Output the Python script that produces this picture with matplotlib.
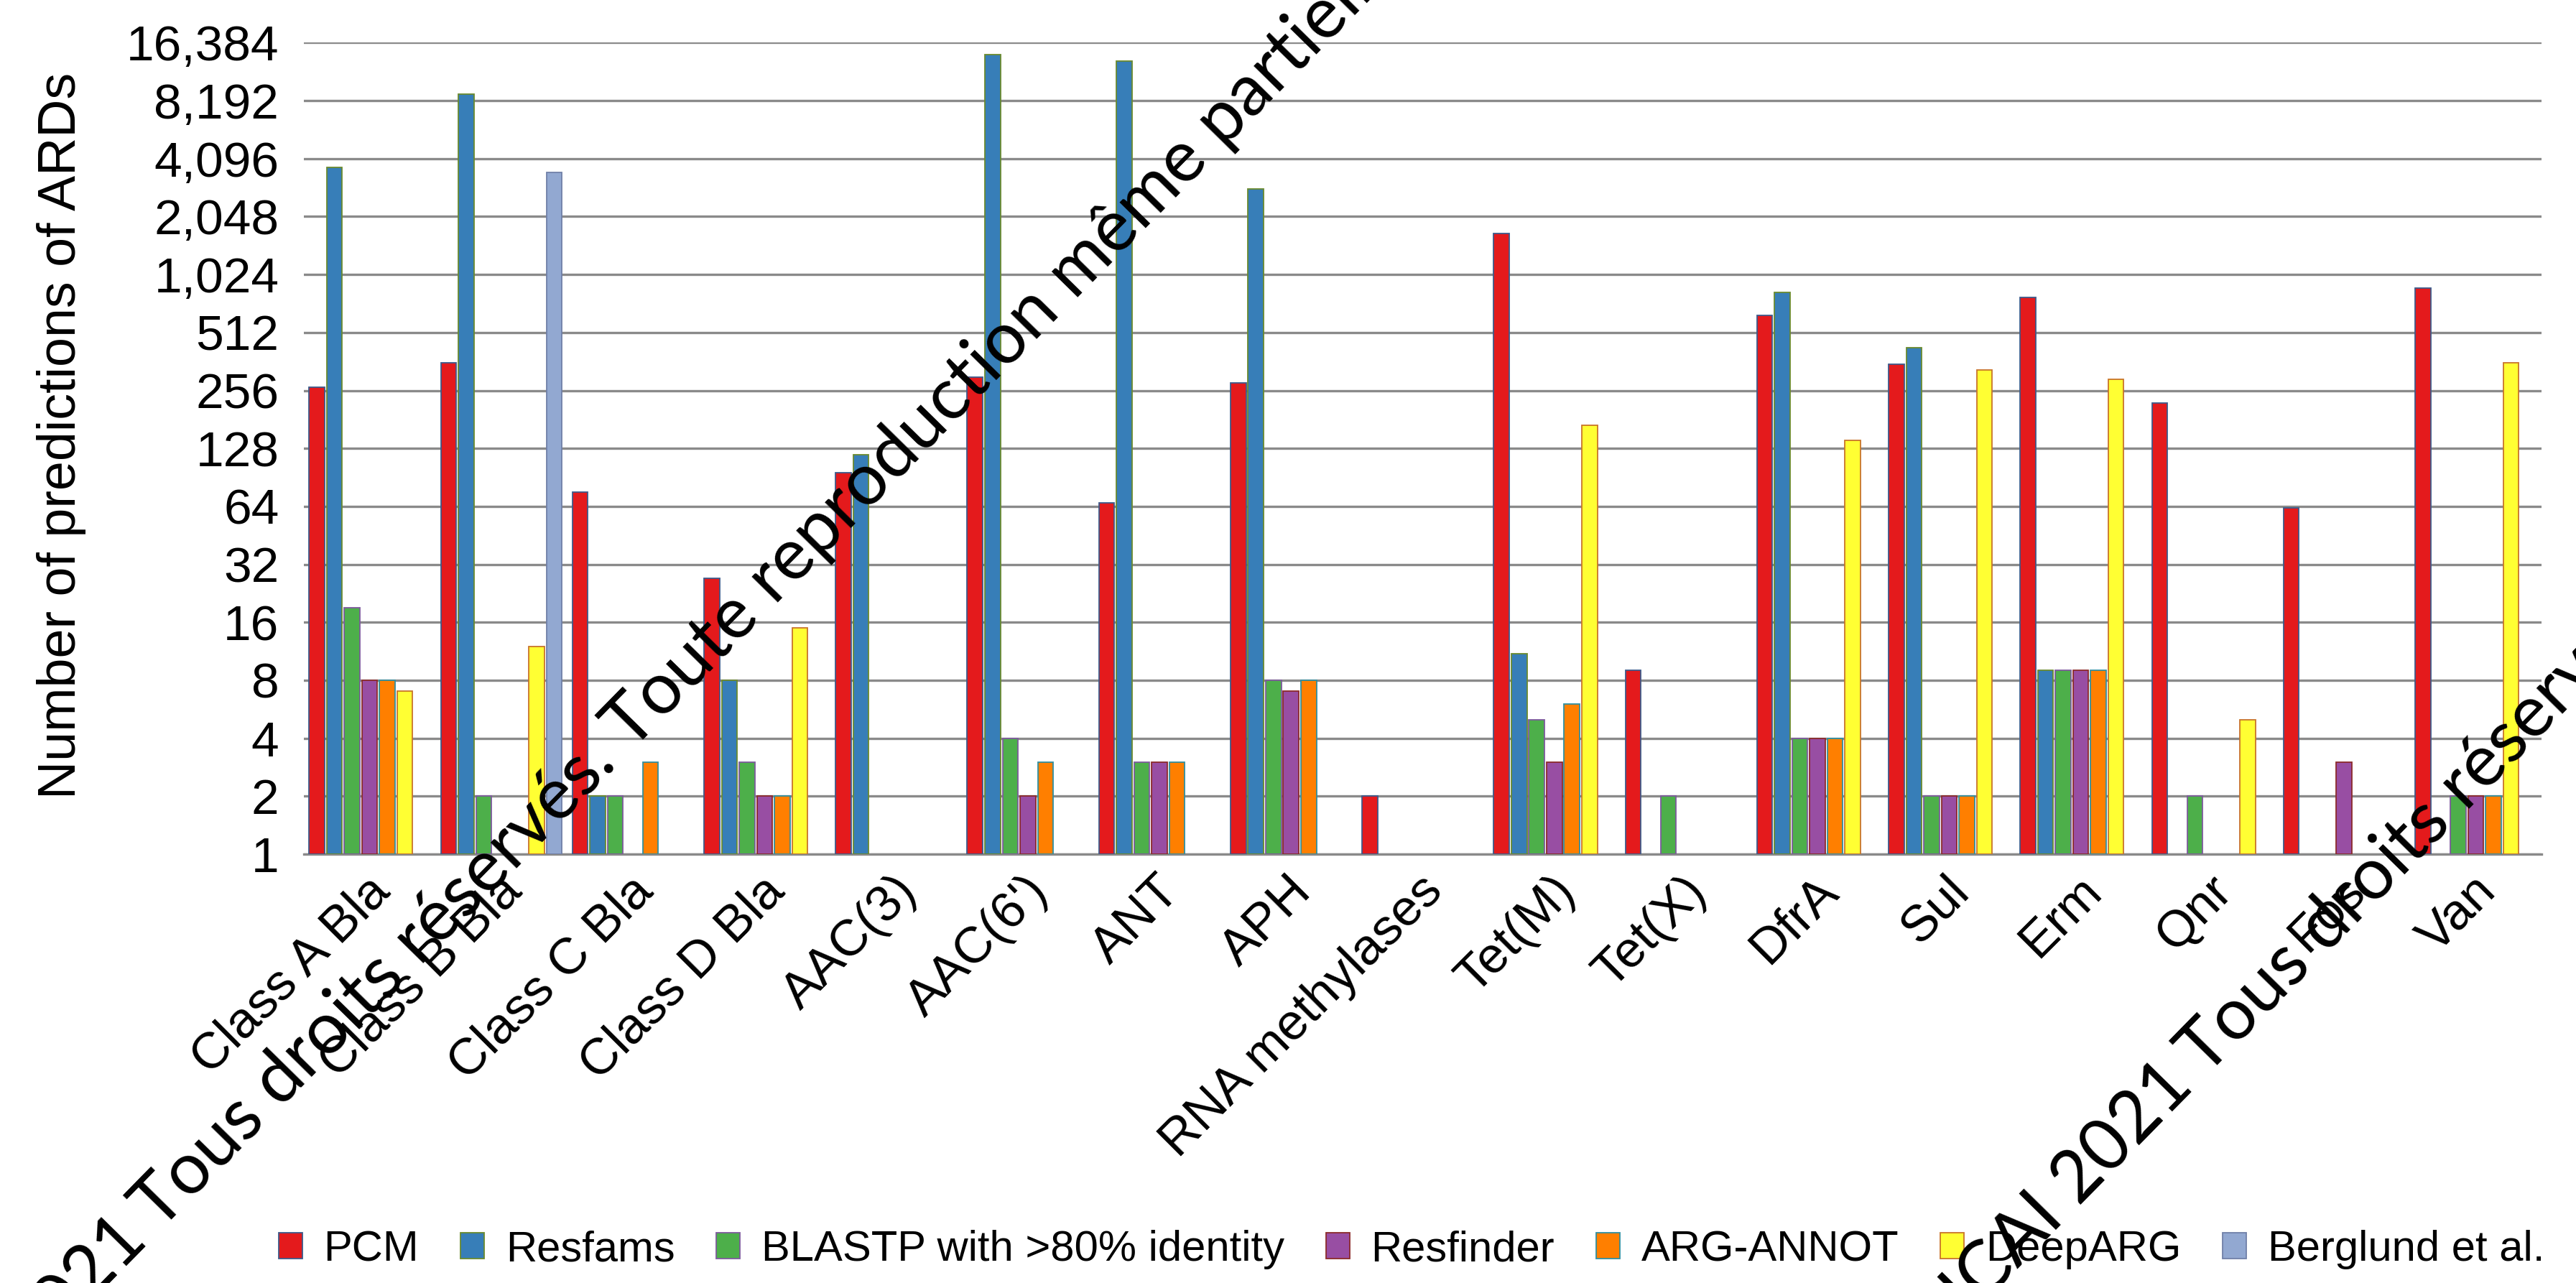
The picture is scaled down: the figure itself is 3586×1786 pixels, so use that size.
import numpy as np
import matplotlib
matplotlib.use("Agg")
import matplotlib.pyplot as plt
from matplotlib.ticker import FixedLocator, FuncFormatter, NullLocator
from matplotlib.transforms import ScaledTranslation

plt.rcParams["font.family"] = ["Liberation Sans", "DejaVu Sans"]

nan = np.nan

# Resistance-determinant families on the x axis
categories = ["Class A Bla", "Class B Bla", "Class C Bla", "Class D Bla",
              "AAC(3)", "AAC(6')", "ANT", "APH", "RNA methylases",
              "Tet(M)", "Tet(X)", "DfrA", "Sul", "Erm", "Qnr", "Fos", "Van"]

series_names = ["PCM", "Resfams", "BLASTP with >80% identity", "Resfinder",
                "ARG-ANNOT", "DeepARG", "Berglund et al."]

# Number of predicted ARDs per method (NaN = no prediction)
pcm       = [265, 355, 76, 27, 96, 300, 67, 280, 2, 1670, 9, 627, 350, 779, 220, 63, 871]
resfams   = [3690, 8850, 2, 8, 119, 14200, 13100, 2840, nan, 11, nan, 826, 426, 9, nan, nan, nan]
blastp    = [19, 2, 2, 3, nan, 4, 3, 8, nan, 5, 2, 4, 2, 9, 2, nan, 2]
resfinder = [8, nan, nan, 2, nan, 2, 3, 7, nan, 3, nan, 4, 2, 9, nan, 3, 2]
argannot  = [8, nan, 3, 2, nan, 3, 3, 8, nan, 6, nan, 4, 2, 9, nan, nan, 2]
deeparg   = [7, 12, nan, 15, nan, nan, nan, nan, nan, 169, nan, 141, 326, 292, 5, nan, 356]
berglund  = [nan, 3470, nan, nan, nan, nan, nan, nan, nan, nan, nan, nan, nan, nan, nan, nan, nan]

series_values = [pcm, resfams, blastp, resfinder, argannot, deeparg, berglund]

face_colors = ["#E41A1C", "#377EB8", "#4DAF4A", "#984EA3", "#FF7F00", "#FFFF33", "#92A8D1"]
edge_colors = ["#3D5A8A", "#6A8A2E", "#7D5A9C", "#8B2A2A", "#2F8FA0", "#C8742A", "#7080A8"]

y_ticks = [2 ** k for k in range(15)]

W, H = 3586, 1786
fig = plt.figure(figsize=(W / 100, H / 100), dpi=100)
ax = fig.add_axes([423 / W, 1 - 1189 / H, 3115 / W, (1189 - 59.4) / H])

ax.set_yscale("log", base=2)
ax.set_ylim(1, 16384)
ax.set_xlim(-0.5, len(categories) - 0.5)

n_series = len(series_names)
pitch = 24.5 / 183.2
width = 0.88 * pitch
x = np.arange(len(categories))
for i, (name, vals) in enumerate(zip(series_names, series_values)):
    v = np.asarray(vals, dtype=float)
    m = ~np.isnan(v)
    xpos = x + (i - (n_series - 1) / 2) * pitch
    ax.bar(xpos[m], v[m] - 1, bottom=1, width=width,
           color=face_colors[i], edgecolor=edge_colors[i], linewidth=1.3,
           label=name, zorder=3)

# Axis styling
ax.yaxis.set_major_locator(FixedLocator(y_ticks))
ax.yaxis.set_minor_locator(NullLocator())
ax.yaxis.set_major_formatter(FuncFormatter(lambda v, p: f"{int(round(v)):,}"))
ax.yaxis.grid(True, color="#8a8a8a", linewidth=2.4, zorder=0)
ax.set_axisbelow(True)
for s in ("top", "right", "left"):
    ax.spines[s].set_visible(False)
ax.spines["bottom"].set_color("#8a8a8a")
ax.spines["bottom"].set_linewidth(2.4)
ax.tick_params(axis="y", length=0, pad=25, labelsize=50)
ax.tick_params(axis="x", length=0, pad=24, labelsize=51)

ax.set_xticks(x)
ax.set_xticklabels(categories, rotation=45, ha="right", va="center",
                   rotation_mode="anchor")
shift = ScaledTranslation(13 / 72, -6 / 72, fig.dpi_scale_trans)
for lbl in ax.get_xticklabels():
    lbl.set_transform(lbl.get_transform() + shift)

ax.set_ylabel("Number of predictions of ARDs", fontsize=53)
ax.yaxis.set_label_coords(-0.0973, 0.516)

fig.legend(loc="center", bbox_to_anchor=(0.548, 0.026), ncol=7, frameon=False,
           fontsize=43, handlelength=0.55, handleheight=0.55, handletextpad=0.5,
           columnspacing=0.97, borderaxespad=0, borderpad=0)

# Copyright watermark, repeated on two parallel diagonal lines
wm_angle = 45.5
wm_size = 72
d = np.array([np.cos(np.radians(wm_angle)), np.sin(np.radians(wm_angle))])
space_px = 0.2 * wm_size * 100 / 72
for ax_px, ay_px in [(222, 1715), (3070, 1500)]:
    p = np.array([ax_px, H - ay_px], dtype=float)
    fig.text(p[0] / W, p[1] / H,
             "Tous droits réservés. Toute reproduction même partielle interdite.",
             family=["Lato", "DejaVu Sans"], fontsize=wm_size, rotation=wm_angle,
             rotation_mode="anchor", ha="left", va="baseline", color="black",
             zorder=10)
    q = p - space_px * d
    fig.text(q[0] / W, q[1] / H, "© RICAI 2021",
             family=["Lato", "DejaVu Sans"], fontsize=wm_size, rotation=wm_angle,
             rotation_mode="anchor", ha="right", va="baseline", color="black",
             zorder=10)

fig.savefig("out.png", dpi=100, facecolor="white")
